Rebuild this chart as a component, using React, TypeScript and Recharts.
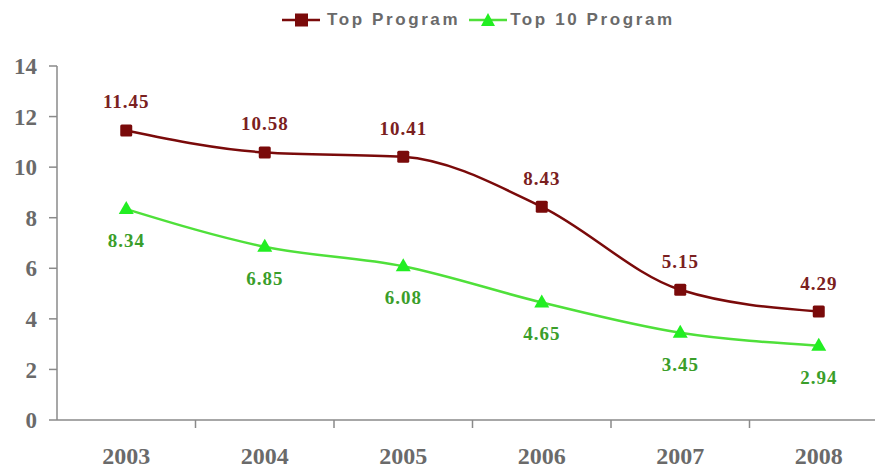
import React from "react";
import {
  LineChart,
  Line,
  XAxis,
  YAxis,
  Legend,
  LabelList,
} from "recharts";

const years = ["2003", "2004", "2005", "2006", "2007", "2008"];
const topProgram = [11.45, 10.58, 10.41, 8.43, 5.15, 4.29];
const top10Program = [8.34, 6.85, 6.08, 4.65, 3.45, 2.94];
const yTicks = [0, 2, 4, 6, 8, 10, 12, 14];

const chartData = years.map((year, i) => ({
  year,
  top: topProgram[i],
  top10: top10Program[i],
}));

const RED = "#7a0a0a";
const RED_TEXT = "#7a2020";
const GREEN = "#4fe03a";
const GREEN_MARK = "#22ee22";
const GREEN_TEXT = "#3a9e2a";
const AXIS = "#8a8a8a";
const TICK_TEXT = "#6a6a6a";
const numFont = "'Liberation Serif', serif";

const SquareDot = (props: any) => {
  const { cx, cy } = props;
  if (cx == null || cy == null) return null;
  return <rect x={cx - 6} y={cy - 6} width={12} height={12} rx={1.5} fill={RED} />;
};

const TriangleDot = (props: any) => {
  const { cx, cy } = props;
  if (cx == null || cy == null) return null;
  return (
    <polygon
      points={`${cx},${cy - 8} ${cx + 7.5},${cy + 5} ${cx - 7.5},${cy + 5}`}
      fill={GREEN_MARK}
    />
  );
};

const makeLabel = (color: string, dy: number) => (props: any) => {
  const { x, y, value } = props;
  return (
    <text
      x={x}
      y={y}
      dy={dy}
      textAnchor="middle"
      fontSize={19}
      fontWeight="bold"
      letterSpacing={1}
      fontFamily={numFont}
      fill={color}
    >
      {Number(value).toFixed(2)}
    </text>
  );
};

const XTick = (props: any) => {
  const { x, y, payload, index } = props;
  const half = payload.offset || 0;
  return (
    <g>
      {index > 0 && (
        <line x1={x - half} x2={x - half} y1={y - 8} y2={y} stroke={AXIS} strokeWidth={1.5} />
      )}
      <text
        x={x}
        y={y + 36}
        textAnchor="middle"
        fontSize={24}
        fontWeight="bold"
        fontFamily={numFont}
        fill={TICK_TEXT}
      >
        {payload.value}
      </text>
    </g>
  );
};

const legendItems = [
  { name: "Top Program", color: RED, mark: "square", gap: 7 },
  { name: "Top 10 Program", color: GREEN, mark: "triangle", gap: 3 },
];

const CustomLegend = () => (
  <div style={{ display: "flex", alignItems: "center", paddingLeft: 282, gap: 9 }}>
    {legendItems.map((item) => (
      <div key={item.name} style={{ display: "flex", alignItems: "center" }}>
        <svg width={38} height={16}>
          <line x1={0} x2={38} y1={8} y2={8} stroke={item.color} strokeWidth={2.5} />
          {item.mark === "square" ? (
            <rect x={13} y={1.5} width={13} height={13} fill={RED} />
          ) : (
            <polygon points="19,1 26,14 12,14" fill={GREEN_MARK} />
          )}
        </svg>
        <span
          style={{
            marginLeft: item.gap,
            fontFamily: "'Liberation Sans', Arial, sans-serif",
            fontWeight: "bold",
            fontSize: 17,
            letterSpacing: 2.6,
            color: TICK_TEXT,
          }}
        >
          {item.name}
        </span>
      </div>
    ))}
  </div>
);

const App = () => {
  return (
    <div
      style={{
        position: "absolute",
        left: 0,
        top: 0,
        width: 875,
        height: 470,
        overflow: "hidden",
        background: "#fff",
      }}
    >
      <LineChart
        width={890}
        height={470}
        data={chartData}
        margin={{ top: 46, right: 2, left: 0, bottom: 0 }}
      >
        <Legend
          verticalAlign="top"
          align="left"
          content={<CustomLegend />}
          wrapperStyle={{ top: 10, left: 0, width: 875 }}
        />
        <XAxis
          dataKey="year"
          scale="band"
          height={50}
          stroke={AXIS}
          strokeWidth={1.5}
          tickLine={false}
          tick={<XTick />}
          interval={0}
        />
        <YAxis
          width={57}
          domain={[0, 14]}
          ticks={yTicks}
          interval={0}
          stroke={AXIS}
          strokeWidth={1.5}
          tickSize={8}
          tickMargin={12}
          tick={{
            fill: TICK_TEXT,
            fontSize: 23,
            fontWeight: "bold",
            fontFamily: numFont,
          }}
        />
        <Line
          type="monotone"
          dataKey="top"
          stroke={RED}
          strokeWidth={2.5}
          dot={<SquareDot />}
          activeDot={false}
          isAnimationActive={false}
        >
          <LabelList dataKey="top" content={makeLabel(RED_TEXT, -22)} />
        </Line>
        <Line
          type="monotone"
          dataKey="top10"
          stroke={GREEN}
          strokeWidth={2.5}
          dot={<TriangleDot />}
          activeDot={false}
          isAnimationActive={false}
        >
          <LabelList dataKey="top10" content={makeLabel(GREEN_TEXT, 38)} />
        </Line>
      </LineChart>
    </div>
  );
};

export default App;
